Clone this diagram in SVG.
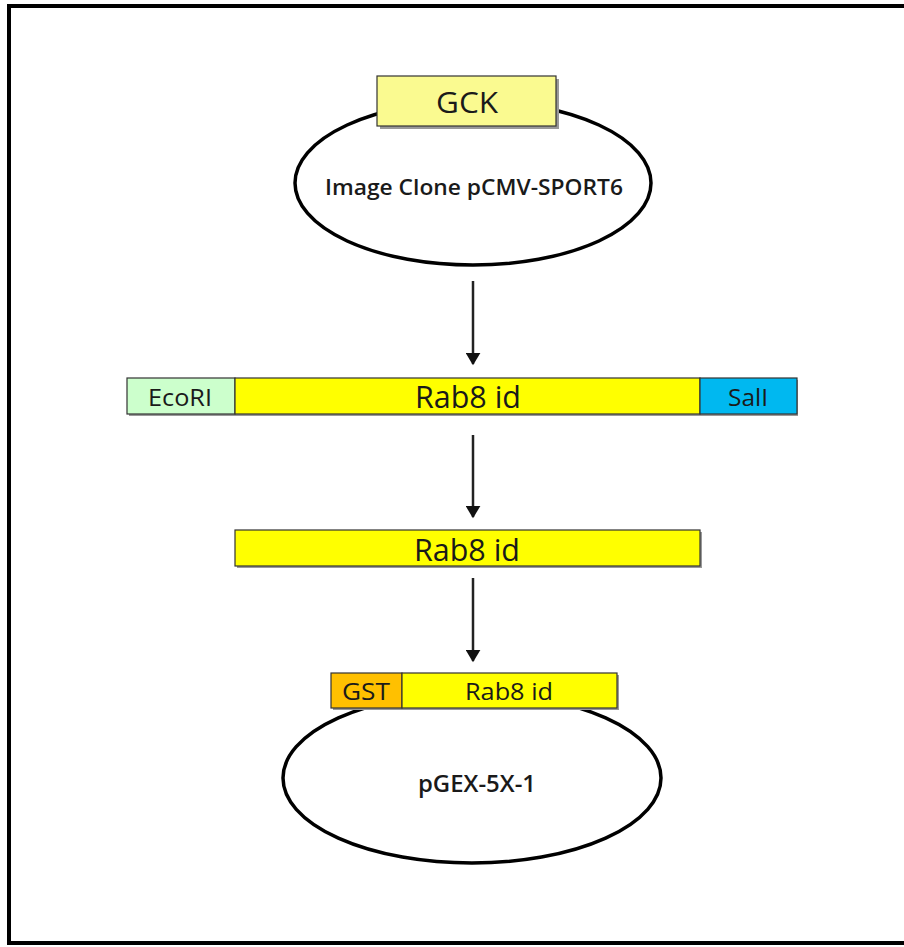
<svg xmlns="http://www.w3.org/2000/svg" width="904" height="947" viewBox="0 0 904 947">
<style>
text{font-family:"Open Sans","Liberation Sans",sans-serif;fill:#1a1a1a;text-anchor:middle}
.box{stroke:#333;stroke-width:1.2}
.shadow{fill:#999}
.plasmid{fill:#fff;stroke:#000;stroke-width:3.5}
.conn{stroke:#222;stroke-width:2.5;fill:none}
</style>
<defs>
<marker id="arr" markerWidth="6" markerHeight="6" refX="4.5" refY="3" orient="auto" markerUnits="strokeWidth">
<path d="M0,0 L5,3 L0,6 Z" fill="#111"/>
</marker>
</defs>
<rect x="9" y="6" width="902" height="937" fill="#fff" stroke="#000" stroke-width="4"/>

<g id="vector1">
<ellipse class="plasmid" cx="473" cy="183" rx="178" ry="82"/>
<rect class="shadow" x="380" y="79" width="179" height="50"/>
<rect class="box" x="377" y="76" width="179" height="50" fill="#fafa90"/>
<text x="467" y="113" font-size="30" textLength="62" lengthAdjust="spacingAndGlyphs">GCK</text>
<text x="474" y="195" font-size="22" font-weight="600" textLength="298" lengthAdjust="spacingAndGlyphs">Image Clone pCMV-SPORT6</text>
</g>

<g id="insert-sites">
<rect class="shadow" x="129" y="380" width="669" height="36"/>
<rect class="box" x="127" y="378" width="108" height="36" fill="#ccffcc"/>
<rect class="box" x="235" y="378" width="465" height="36" fill="#ffff00"/>
<rect class="box" x="700" y="378" width="97" height="36" fill="#00b8f0"/>
<text x="180" y="406" font-size="24" textLength="64" lengthAdjust="spacingAndGlyphs">EcoRI</text>
<text x="468" y="408" font-size="31" textLength="106" lengthAdjust="spacingAndGlyphs">Rab8 id</text>
<text x="748" y="406" font-size="24" textLength="40" lengthAdjust="spacingAndGlyphs">SalI</text>
</g>

<g id="insert">
<rect class="shadow" x="237" y="532" width="465" height="36"/>
<rect class="box" x="235" y="530" width="465" height="36" fill="#ffff00"/>
<text x="467" y="561" font-size="31" textLength="106" lengthAdjust="spacingAndGlyphs">Rab8 id</text>
</g>

<g id="vector2">
<ellipse class="plasmid" cx="472" cy="778" rx="189" ry="85"/>
<rect class="shadow" x="333" y="675" width="286" height="35"/>
<rect class="box" x="331" y="673" width="71" height="35" fill="#ffc000"/>
<rect class="box" x="402" y="673" width="215" height="35" fill="#ffff00"/>
<text x="366" y="700" font-size="24" textLength="48" lengthAdjust="spacingAndGlyphs">GST</text>
<text x="509" y="700" font-size="24" textLength="88" lengthAdjust="spacingAndGlyphs">Rab8 id</text>
<text x="477" y="792" font-size="23" font-weight="600" textLength="118" lengthAdjust="spacingAndGlyphs">pGEX-5X-1</text>
</g>

<g id="connectors">
<line class="conn" x1="473" y1="281" x2="473" y2="364" marker-end="url(#arr)"/>
<line class="conn" x1="473" y1="435" x2="473" y2="517" marker-end="url(#arr)"/>
<line class="conn" x1="473" y1="578" x2="473" y2="661" marker-end="url(#arr)"/>
</g>
</svg>
